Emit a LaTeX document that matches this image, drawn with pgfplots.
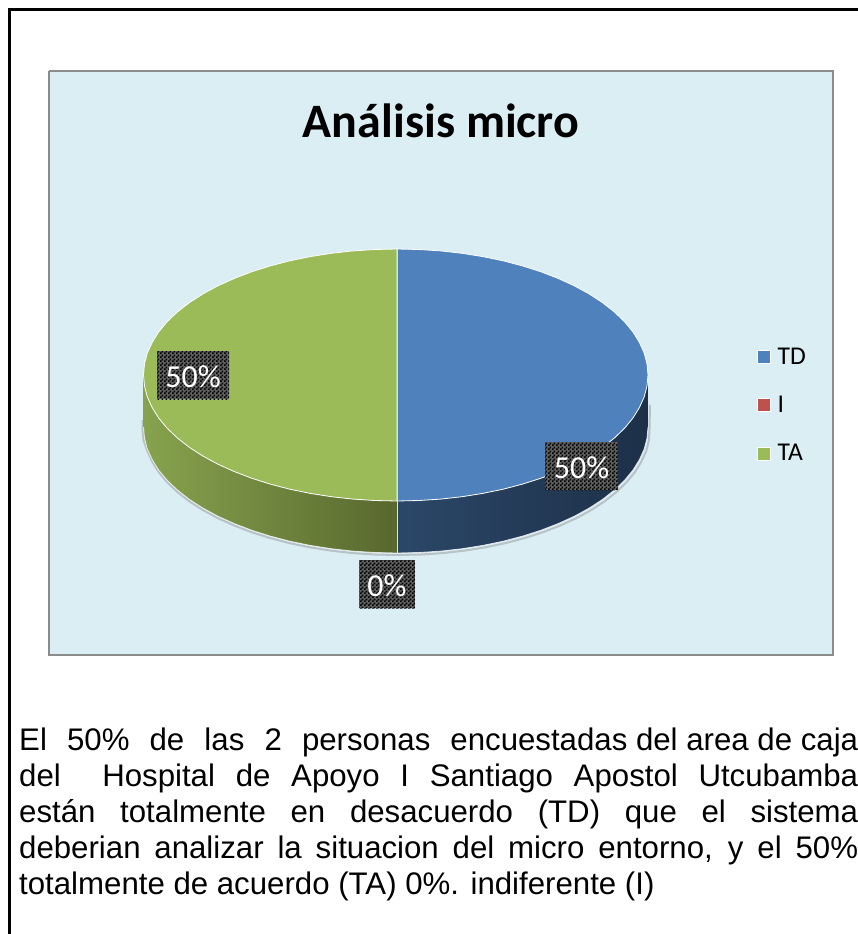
\documentclass[border=0pt]{standalone}
\usepackage{fontspec}
\setmainfont{Liberation Sans}
\newfontfamily\carlito{Carlito}
\usepackage{pgfplots}
\pgfplotsset{compat=1.18}
\usetikzlibrary{patterns}
\definecolor{bg}{HTML}{DBEEF4}
\definecolor{frameg}{HTML}{8C8C8C}
\definecolor{tdc}{HTML}{4F81BD}
\definecolor{ic}{HTML}{C0504D}
\definecolor{tac}{HTML}{9BBB59}
\definecolor{chk}{HTML}{606060}
\pgfdeclarepatternformonly{chk2}{\pgfpointorigin}{\pgfqpoint{4pt}{4pt}}{\pgfqpoint{4pt}{4pt}}{%
  \pgfpathrectangle{\pgfqpoint{0pt}{0pt}}{\pgfqpoint{2pt}{2pt}}%
  \pgfpathrectangle{\pgfqpoint{2pt}{2pt}}{\pgfqpoint{2pt}{2pt}}%
  \pgfusepath{fill}}
\tikzset{lab/.style={preaction={fill=chk},pattern=chk2,pattern color=black,text=white,inner sep=0pt,
  minimum width=#1,minimum height=48pt,text height=24pt,text depth=0pt,font=\carlito\fontsize{32}{32}\selectfont}}
\newcommand{\bodyline}[2]{\node[anchor=base west,inner sep=0pt] at (axis cs:19,#1) {\fontsize{31.2}{36}\selectfont #2};}
\begin{document}
\begin{tikzpicture}
\useasboundingbox (0,0) rectangle (858pt,934pt);
\begin{axis}[at={(0,0)},anchor=south west,scale only axis,width=858pt,height=934pt,
  xmin=0,xmax=858,ymin=0,ymax=934,y dir=reverse,hide axis,clip=false,
  legend style={at={(axis cs:756.5,346.5)},anchor=north west,draw=none,fill=none,inner sep=0pt,
    font=\carlito\fontsize{25.6}{27}\selectfont,row sep=28.5pt,
    nodes={inner sep=1pt,anchor=west}},
  legend cell align=left,
  legend image code/.code={\path[fill=#1,draw=white,line width=1pt] (0pt,-6.5pt) rectangle (13pt,6.5pt);}]
% frames
\addplot[forget plot,draw=frameg,line width=2pt,fill=bg] coordinates {(49,71)(833,71)(833,655)(49,655)(49,71)};
\addplot[forget plot,draw=black,line width=2.5pt] coordinates {(9.5,934)(9.5,9.5)(858,9.5)};
% soft shadow
\addplot[forget plot,draw=gray,opacity=.4,line width=2pt] coordinates {(650,405)(649.5,429)(649,440)(646.2,451)(641.4,461.6)(634.9,472.1)(626.5,482.3)(616.4,492)(604.6,501.3)(591.3,510)(576.5,518.1)(560.3,525.5)(543,532.2)(524.5,538.1)(505.1,543.2)(484.8,547.4)(464,550.7)(442.6,553.1)(420.9,554.5)(397,555)(374.9,554.5)(353,553.1)(331.4,550.7)(310.3,547.4)(289.8,543.2)(270.2,538.1)(251.6,532.2)(234.1,525.5)(217.7,518.1)(202.8,510)(189.3,501.3)(177.4,492)(167.2,482.3)(158.7,472.1)(152.2,461.6)(147.3,451)(143.5,440)(142.5,429)(142.5,420)};
% right wall (TD)
\addplot[forget plot,draw=none,left color=tdc!55!black,middle color={rgb,255:red,29;green,48;blue,72},right color={rgb,255:red,29;green,48;blue,72}] coordinates {(648,375)(647,386)(644.2,396.9)(639.4,407.6)(632.9,418.1)(624.5,428.3)(614.4,438)(602.6,447.3)(589.3,456)(574.5,464.1)(558.3,471.5)(541,478.2)(522.5,484.1)(503.1,489.2)(482.8,493.4)(462,496.7)(440.6,499.1)(418.9,500.5)(397,501)
 (397,553)(418.9,552.5)(440.6,551.1)(462,548.7)(482.8,545.4)(503.1,541.2)(522.5,536.1)(541,530.2)(558.3,523.5)(574.5,516.1)(589.3,508)(602.6,499.3)(614.4,490)(624.5,480.3)(632.9,470.1)(639.4,459.6)(644.2,448.9)(647,438)(648,427)} -- cycle;
% left wall (TA)
\addplot[forget plot,draw=none,left color={rgb,255:red,135;green,163;blue,78},middle color={rgb,255:red,122;green,148;blue,68},right color={rgb,255:red,88;green,104;blue,46}] coordinates {(143.5,375)(144.5,386)(147.3,396.9)(152.2,407.6)(158.7,418.1)(167.2,428.3)(177.4,438)(189.3,447.3)(202.8,456)(217.7,464.1)(234.1,471.5)(251.6,478.2)(270.2,484.1)(289.8,489.2)(310.3,493.4)(331.4,496.7)(353,499.1)(374.9,500.5)(397,501)
 (397,553)(374.9,552.5)(353,551.1)(331.4,548.7)(310.3,545.4)(289.8,541.2)(270.2,536.1)(251.6,530.2)(234.1,523.5)(217.7,516.1)(202.8,508)(189.3,499.3)(177.4,490)(167.2,480.3)(158.7,470.1)(152.2,459.6)(147.3,448.9)(144.5,438)(143.5,427)} -- cycle;
% wall lower edge
\addplot[forget plot,draw=white,opacity=.75,line width=.8pt] coordinates {(648,427)(647,438)(644.2,448.9)(639.4,459.6)(632.9,470.1)(624.5,480.3)(614.4,490)(602.6,499.3)(589.3,508)(574.5,516.1)(558.3,523.5)(541,530.2)(522.5,536.1)(503.1,541.2)(482.8,545.4)(462,548.7)(440.6,551.1)(418.9,552.5)(397,553)(374.9,552.5)(353,551.1)(331.4,548.7)(310.3,545.4)(289.8,541.2)(270.2,536.1)(251.6,530.2)(234.1,523.5)(217.7,516.1)(202.8,508)(189.3,499.3)(177.4,490)(167.2,480.3)(158.7,470.1)(152.2,459.6)(147.3,448.9)(144.5,438)(143.5,427)};
% top TD
\addplot[forget plot,fill=tdc,draw=white,line width=.8pt] coordinates {(397,249)(418.9,249.5)(440.6,250.9)(462,253.3)(482.8,256.6)(503.1,260.8)(522.5,265.9)(541,271.8)(558.3,278.5)(574.5,285.9)(589.3,294)(602.6,302.7)(614.4,312)(624.5,321.7)(632.9,331.9)(639.4,342.4)(644.2,353.1)(647,364)(648,375)(647,386)(644.2,396.9)(639.4,407.6)(632.9,418.1)(624.5,428.3)(614.4,438)(602.6,447.3)(589.3,456)(574.5,464.1)(558.3,471.5)(541,478.2)(522.5,484.1)(503.1,489.2)(482.8,493.4)(462,496.7)(440.6,499.1)(418.9,500.5)(397,501)} -- cycle;
% top TA
\addplot[forget plot,fill=tac,draw=white,line width=.8pt] coordinates {(397,249)(374.9,249.5)(353,250.9)(331.4,253.3)(310.3,256.6)(289.8,260.8)(270.2,265.9)(251.6,271.8)(234.1,278.5)(217.7,285.9)(202.8,294)(189.3,302.7)(177.4,312)(167.2,321.7)(158.7,331.9)(152.2,342.4)(147.3,353.1)(144.5,364)(143.5,375)(144.5,386)(147.3,396.9)(152.2,407.6)(158.7,418.1)(167.2,428.3)(177.4,438)(189.3,447.3)(202.8,456)(217.7,464.1)(234.1,471.5)(251.6,478.2)(270.2,484.1)(289.8,489.2)(310.3,493.4)(331.4,496.7)(353,499.1)(374.9,500.5)(397,501)} -- cycle;
% zero slice divider
\addplot[forget plot,draw=white!75!gray,line width=1pt] coordinates {(397,249)(397,553)};
% legend
\addlegendimage{tdc}\addlegendentry{\hspace{6pt}TD}
\addlegendimage{ic}\addlegendentry{\hspace{6pt}I}
\addlegendimage{tac}\addlegendentry{\hspace{6pt}TA}
% texts
\node[font=\carlito\bfseries\fontsize{48}{50}\selectfont,anchor=base] at (axis cs:441,137) {Análisis micro};
\node[lab=72pt] at (axis cs:193,375) {50\%};
\node[lab=73pt] at (axis cs:581.5,466) {50\%};
\node[lab=56pt] at (axis cs:387,584) {0\%};
\bodyline{750}{\makebox[839pt][s]{El 50\% de las 2 personas \mbox{encuestadas del area de caja}}}
\bodyline{786}{\makebox[839pt][s]{del \ Hospital de Apoyo I Santiago Apostol Utcubamba}}
\bodyline{822}{\makebox[839pt][s]{están totalmente en desacuerdo (TD) que el sistema}}
\bodyline{858}{\makebox[839pt][s]{deberian analizar la situacion del micro entorno, y el 50\%}}
\bodyline{894}{totalmente de acuerdo (TA) 0\%. indiferente (I)}
\end{axis}
\end{tikzpicture}
\end{document}
